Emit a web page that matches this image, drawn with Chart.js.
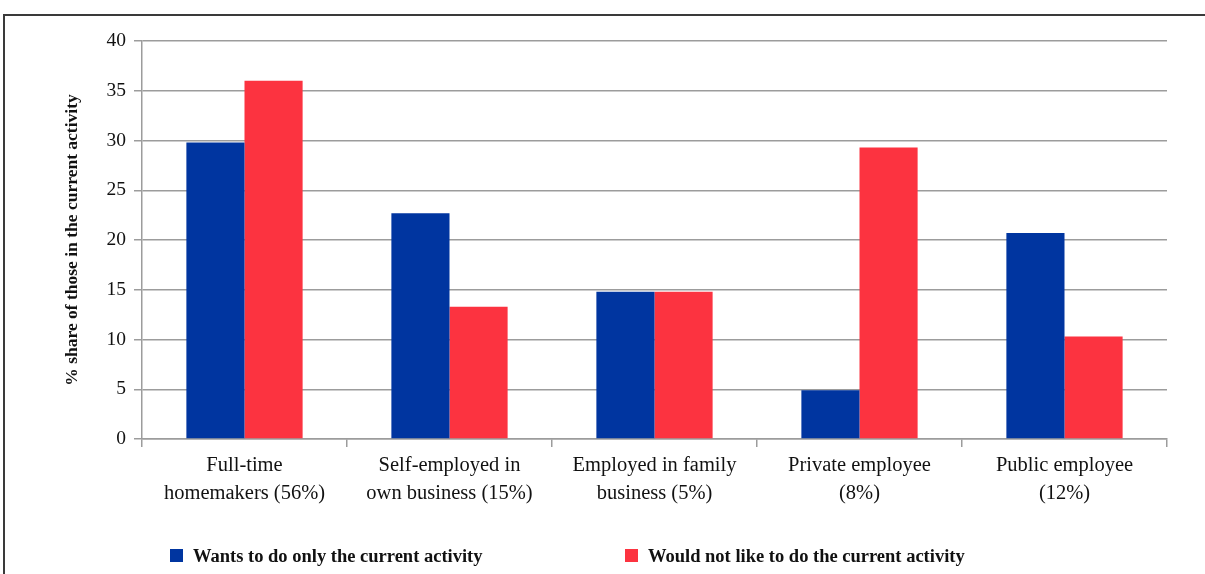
<!DOCTYPE html>
<html>
<head>
<meta charset="utf-8">
<script src="https://cdn.jsdelivr.net/npm/chart.js@4"></script>
<style>
html, body { margin: 0; padding: 0; background: #fff; }
#wrap { width: 1205px; height: 574px; position: relative; }
</style>
</head>
<body>
<div id="wrap"><canvas id="activityChart"></canvas></div>
<script>
// categories and the share of each group
const categories = [
  ["Full-time", "homemakers (56%)"],
  ["Self-employed in", "own business (15%)"],
  ["Employed in family", "business (5%)"],
  ["Private employee", "(8%)"],
  ["Public employee", "(12%)"]
];
const seriesNames = ["Wants to do only the current activity", "Would not like to do the current activity"];
const wantsCurrent = [29.8, 22.7, 14.8, 4.9, 20.7];
const wouldNotLike = [36.0, 13.3, 14.8, 29.3, 10.3];
const yTicks = [0, 5, 10, 15, 20, 25, 30, 35, 40];

const BLUE = "#0035a0";
const RED = "#fc3340";
const GRID = "#9c9c9c";
const SERIF = "'Liberation Serif', 'DejaVu Serif', serif";

// outer frame (top and left rule)
const framePlugin = {
  id: "frame",
  afterDraw(chart) {
    const c = chart.ctx;
    c.save();
    c.strokeStyle = "#3a3a3a";
    c.lineWidth = 2;
    c.beginPath();
    c.moveTo(4, 574);
    c.lineTo(4, 15);
    c.lineTo(1205, 15);
    c.stroke();
    c.restore();
  }
};

// legend drawn along the bottom
const legendPlugin = {
  id: "bottomLegend",
  afterDraw(chart) {
    const c = chart.ctx;
    const xs = [170, 625];
    const y = 556;
    c.save();
    c.font = "bold 18.5px " + SERIF;
    c.textBaseline = "middle";
    chart.data.datasets.forEach((ds, i) => {
      c.fillStyle = ds.backgroundColor;
      c.fillRect(xs[i], y - 7, 13, 13);
      c.fillStyle = "#111";
      c.fillText(ds.label, xs[i] + 23, y + 1);
    });
    c.restore();
  }
};

const ctx = document.getElementById("activityChart").getContext("2d");

new Chart(ctx, {
  type: "bar",
  data: {
    labels: categories,
    datasets: [
      { label: seriesNames[0], data: wantsCurrent, backgroundColor: BLUE },
      { label: seriesNames[1], data: wouldNotLike, backgroundColor: RED }
    ]
  },
  options: {
    responsive: true,
    maintainAspectRatio: false,
    animation: false,
    layout: { padding: { top: 41, left: 0, right: 38, bottom: 55 } },
    datasets: {
      bar: { categoryPercentage: 0.567, barPercentage: 1.0 }
    },
    plugins: {
      legend: { display: false },
      tooltip: { enabled: false }
    },
    scales: {
      x: {
        grid: {
          offset: true,
          color: c => c.index === categories.length ? GRID : "transparent",
          tickColor: GRID,
          tickLength: 8,
          lineWidth: 1.5
        },
        border: { color: GRID, width: 1.5 },
        ticks: {
          color: "#111",
          padding: 5,
          maxRotation: 0,
          font: { family: SERIF, size: 20.5, lineHeight: 1.36 }
        },
        afterFit(scale) { scale.height = 80; }
      },
      y: {
        min: 0,
        max: 40,
        afterBuildTicks(scale) { scale.ticks = yTicks.map(v => ({ value: v })); },
        grid: { color: GRID, tickColor: GRID, tickLength: 8, lineWidth: 1.5 },
        border: { color: GRID, width: 1.5 },
        ticks: {
          color: "#111",
          padding: 8,
          font: { family: SERIF, size: 19.5 }
        },
        title: {
          display: true,
          text: "% share of those in the current activity",
          color: "#111",
          padding: { top: 62, bottom: 4 },
          font: { family: SERIF, size: 17.5, weight: "bold", lineHeight: 1.2 }
        },
        afterFit(scale) { scale.width = 142; }
      }
    }
  },
  plugins: [framePlugin, legendPlugin]
});
</script>
</body>
</html>
